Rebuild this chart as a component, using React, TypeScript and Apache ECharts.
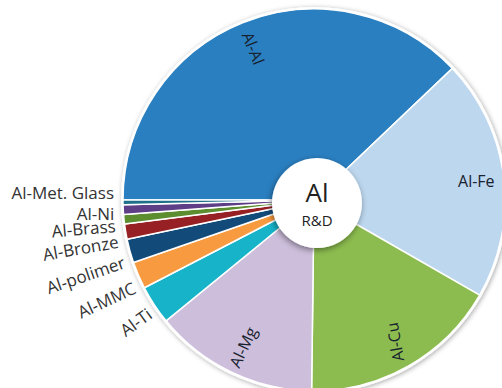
import React, { useEffect, useRef } from "react";
import * as echarts from "echarts";

const categories = [
  "Al-Al",
  "Al-Fe",
  "Al-Cu",
  "Al-Mg",
  "Al-Ti",
  "Al-MMC",
  "Al-polimer",
  "Al-Bronze",
  "Al-Brass",
  "Al-Ni",
  "Al-Met. Glass",
];
const shares = [37.9, 20.4, 16.9, 13.9, 3.3, 2.3, 2.0, 1.3, 0.8, 0.8, 0.4];
const colors = [
  "#2a7fc1",
  "#bdd7ee",
  "#8cbc4f",
  "#cdbfdc",
  "#17b3c9",
  "#f89a3f",
  "#124a7a",
  "#962023",
  "#5c8d2f",
  "#5d3e87",
  "#1e6f8a",
];
const insideLabels = ["Al-Al", "Al-Fe", "Al-Cu", "Al-Mg"];
const insideRotate: Record<string, number | string> = {
  "Al-Al": "radial",
  "Al-Fe": 0,
  "Al-Cu": 100,
  "Al-Mg": "radial",
};
// style tweaks for the outside labels (vertical nudge in px, rotation in deg)
const outsideLabelStyle: Record<string, { dy: number; rotate: number }> = {
  "Al-Met. Glass": { dy: -10, rotate: 0 },
  "Al-Ni": { dy: 4, rotate: 0 },
  "Al-Brass": { dy: 6, rotate: 5 },
  "Al-Bronze": { dy: 9, rotate: 10 },
  "Al-polimer": { dy: 10, rotate: 19 },
  "Al-MMC": { dy: 11, rotate: 25 },
  "Al-Ti": { dy: 6, rotate: 36 },
};
const centerTitle = "Al";
const centerSub = "R&D";

const FONT = "'Open Sans', 'Noto Sans', sans-serif";

export default function App() {
  const ref = useRef<HTMLDivElement>(null);
  useEffect(() => {
    if (!ref.current) return;
    const chart = echarts.init(ref.current, null, { renderer: "svg" });
    const cx = 314;
    const cy = 200;
    const R = 191;

    const mainData = categories.map((name, i) => {
      const inside = insideLabels.includes(name);
      return {
        name,
        value: shares[i],
        itemStyle: { color: colors[i] },
        label: { show: !inside },
      };
    });
    const overlayData = categories.map((name, i) => {
      const inside = insideLabels.includes(name);
      return {
        name,
        value: shares[i],
        label: inside
          ? { show: true, rotate: insideRotate[name] as any }
          : { show: false },
      };
    });

    chart.setOption({
      animation: false,
      backgroundColor: "#ffffff",
      series: [
        {
          type: "pie",
          center: [cx, cy],
          radius: R + 2,
          silent: true,
          z: 0,
          data: [{ value: 1, name: "rim" }],
          itemStyle: {
            color: "#ffffff",
            shadowBlur: 5,
            shadowColor: "rgba(0,0,0,0.35)",
            shadowOffsetX: 1,
            shadowOffsetY: 1,
          },
          label: { show: false },
          labelLine: { show: false },
        },
        {
          type: "pie",
          center: [cx, cy],
          radius: R,
          startAngle: 180,
          clockwise: true,
          z: 2,
          avoidLabelOverlap: false,
          labelLayout: (params: any) => {
            const st = outsideLabelStyle[categories[params.dataIndex]];
            return st
              ? { hideOverlap: false, dy: st.dy, rotate: st.rotate }
              : { hideOverlap: false };
          },
          data: mainData,
          itemStyle: { borderColor: "#ffffff", borderWidth: 1.5 },
          label: {
            position: "outside",
            rotate: "radial",
            fontFamily: FONT,
            fontSize: 17,
            lineHeight: 15,
            color: "#333333",
            formatter: "{b}",
          },
          labelLine: { show: false, length: 4, length2: 0 },
        },
        {
          type: "pie",
          center: [cx, cy],
          radius: [R * 0.68, R],
          startAngle: 180,
          clockwise: true,
          z: 3,
          silent: true,
          data: overlayData,
          itemStyle: { color: "rgba(0,0,0,0)", borderWidth: 0 },
          label: {
            position: "inside",
            fontFamily: FONT,
            fontSize: 16,
            color: "#18222e",
            formatter: "{b}",
          },
          labelLine: { show: false },
        },
        {
          type: "pie",
          center: [cx + 3, cy + 3],
          radius: 45,
          silent: true,
          z: 4,
          data: [{ value: 1, name: centerTitle }],
          itemStyle: {
            color: "#ffffff",
            shadowBlur: 6,
            shadowColor: "rgba(0,0,0,0.45)",
            shadowOffsetX: -1,
            shadowOffsetY: 2,
          },
          label: {
            show: true,
            position: "center",
            formatter: `{a|${centerTitle}}\n{b|${centerSub}}`,
            rich: {
              a: {
                fontFamily: FONT,
                fontSize: 26,
                color: "#222222",
                lineHeight: 34,
              },
              b: {
                fontFamily: FONT,
                fontSize: 15,
                color: "#222222",
                lineHeight: 22,
              },
            },
          },
          labelLine: { show: false },
        },
      ],
    });
    return () => chart.dispose();
  }, []);
  return (
    <div
      ref={ref}
      style={{ position: "fixed", left: 0, top: 0, width: 502, height: 388 }}
    />
  );
}
